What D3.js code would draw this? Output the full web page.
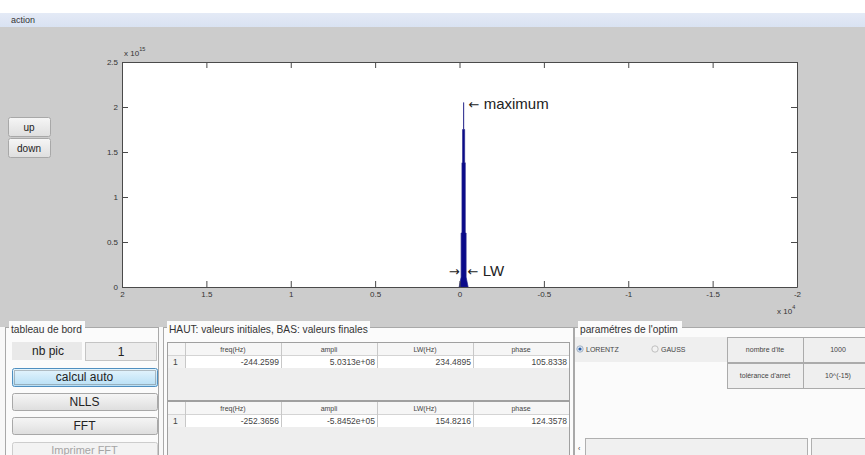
<!DOCTYPE html>
<html lang="fr">
<head>
    <meta charset="UTF-8">
    <title>action</title>
    <script type="text/javascript" src="https://cdn.jsdelivr.net/npm/d3@7"></script>
    <style>
        body {
            margin: 0;
            background-color: #cccccc;
            overflow: hidden;
        }

        svg text {
            font-family: Arial, "Liberation Sans", sans-serif;
        }

        .axis text {
            font-size: 8px;
            fill: #333;
        }

        .axis path, .axis line {
            stroke: #4a4a4a;
        }

        text.annot {
            font-size: 15px;
            fill: #222;
        }

        tspan.arrow {
            font-family: "DejaVu Sans", sans-serif;
            font-size: 13px;
        }

        text.panel-title {
            font-size: 10.2px;
            fill: #333;
        }

        text.btn {
            font-size: 12px;
            fill: #222;
            text-anchor: middle;
        }

        text.cell {
            font-size: 8.5px;
            fill: #444;
        }

        text.small {
            font-size: 7px;
            fill: #444;
        }
    </style>
</head>
<body>
<div id="fig"></div>
<script type="text/javascript">
    // spectrum (Hz, amplitude)
    var specFreq = [-510, -392, -392, -342, -342, -305, -305, -250, -244, -238, -183, -183, -146, -146, -96, -96, 22];
    var specAmp = [0, 0.11e15, 0.6e15, 0.6e15, 1.38e15, 1.38e15, 1.75e15, 1.75e15, 2.05e15, 1.75e15, 1.75e15,
        1.38e15, 1.38e15, 0.6e15, 0.6e15, 0.11e15, 0];

    var xTicks = [2e4, 1.5e4, 1e4, 0.5e4, 0, -0.5e4, -1e4, -1.5e4, -2e4];
    var yTicks = [0, 0.5e15, 1e15, 1.5e15, 2e15, 2.5e15];

    var peakFreq = -244, peakAmp = 2.05e15, lwLevel = 0.18e15;

    var colHeaders = ["freq(Hz)", "ampli", "LW(Hz)", "phase"];
    var initVals = ["-244.2599", "5.0313e+08", "234.4895", "105.8338"];
    var finalVals = ["-252.3656", "-5.8452e+05", "154.8216", "124.3578"];

    var W = 865, H = 455;
    var plot = {left: 122, right: 797, top: 62, bottom: 287};

    var svg = d3.select("#fig").append("svg")
        .attr("width", W)
        .attr("height", H);

    var defs = svg.append("defs");
    function grad(id, c1, c2) {
        var g = defs.append("linearGradient").attr("id", id)
            .attr("x1", 0).attr("y1", 0).attr("x2", 0).attr("y2", 1);
        g.append("stop").attr("offset", "0%").attr("stop-color", c1);
        g.append("stop").attr("offset", "100%").attr("stop-color", c2);
    }
    grad("gTitle", "#e4eaf6", "#d9e2f2");
    grad("gBtn", "#f6f6f6", "#dedede");
    grad("gBlue", "#e6f5fd", "#b6def5");

    // window strip
    svg.append("rect").attr("x", 0).attr("y", 0).attr("width", W).attr("height", 13).attr("fill", "#ffffff");
    svg.append("rect").attr("x", 0).attr("y", 13).attr("width", W).attr("height", 14).attr("fill", "url(#gTitle)");
    svg.append("text").attr("x", 11).attr("y", 23).style("font-size", "9px").style("fill", "#333").text("action");

    // ---- axes ----
    var x = d3.scaleLinear().domain([2e4, -2e4]).range([plot.left, plot.right]);
    var y = d3.scaleLinear().domain([0, 2.5e15]).range([plot.bottom, plot.top]);

    svg.append("rect")
        .attr("x", plot.left).attr("y", plot.top)
        .attr("width", plot.right - plot.left).attr("height", plot.bottom - plot.top)
        .attr("fill", "#ffffff");

    var area = d3.area()
        .x(function (d, i) { return x(specFreq[i]); })
        .y0(y(0))
        .y1(function (d) { return y(d); });

    svg.append("path")
        .datum(specAmp)
        .attr("fill", "#0a0a8a")
        .attr("stroke", "#24248a")
        .attr("stroke-width", 0.7)
        .attr("d", area);

    function num(d) { return String(+d.toFixed(2)); }

    svg.append("g")
        .attr("class", "axis")
        .attr("transform", "translate(0," + plot.bottom + ")")
        .call(d3.axisBottom(x).tickValues(xTicks).tickSizeInner(-6).tickSizeOuter(0).tickPadding(4)
            .tickFormat(function (d) { return num(d / 1e4); }));
    svg.append("g")
        .attr("class", "axis")
        .attr("transform", "translate(0," + plot.top + ")")
        .call(d3.axisTop(x).tickValues(xTicks).tickSizeInner(-6).tickSizeOuter(0).tickFormat(""));
    svg.append("g")
        .attr("class", "axis")
        .attr("transform", "translate(" + plot.left + ",0)")
        .call(d3.axisLeft(y).tickValues(yTicks).tickSizeInner(-6).tickSizeOuter(0).tickPadding(4)
            .tickFormat(function (d) { return num(d / 1e15); }));
    svg.append("g")
        .attr("class", "axis")
        .attr("transform", "translate(" + plot.right + ",0)")
        .call(d3.axisRight(y).tickValues(yTicks).tickSizeInner(-6).tickSizeOuter(0).tickFormat(""));

    // exponent labels
    function expo(xp, yp, p) {
        var t = svg.append("text").attr("x", xp).attr("y", yp).style("font-size", "8px").style("fill", "#333");
        t.append("tspan").text("x 10");
        t.append("tspan").attr("dy", -5).style("font-size", "5.5px").text(p);
    }
    expo(plot.left + 2, 56, "15");
    expo(777, 314, "4");

    // annotations
    var tMax = svg.append("text").attr("class", "annot")
        .attr("x", x(peakFreq) + 5).attr("y", y(peakAmp) + 6);
    tMax.append("tspan").attr("class", "arrow").text("\u2190");
    tMax.append("tspan").text(" maximum");

    svg.append("text").attr("class", "annot")
        .attr("x", x(peakFreq) - 4).attr("y", y(lwLevel) + 5)
        .style("text-anchor", "end")
        .append("tspan").attr("class", "arrow").text("\u2192");
    var tLw = svg.append("text").attr("class", "annot")
        .attr("x", x(peakFreq) + 4).attr("y", y(lwLevel) + 5);
    tLw.append("tspan").attr("class", "arrow").text("\u2190");
    tLw.append("tspan").text(" LW");

    // ---- buttons ----
    function button(bx, by, bw, bh, label, style) {
        var g = svg.append("g");
        var fill = "url(#gBtn)", stroke = "#a8a8a8", color = "#222";
        if (style === "blue") { fill = "url(#gBlue)"; stroke = "#4f8fc0"; }
        if (style === "off") { fill = "#f3f3f3"; stroke = "#cdcdcd"; color = "#a5a5a5"; }
        g.append("rect").attr("x", bx + 0.5).attr("y", by + 0.5).attr("width", bw).attr("height", bh)
            .attr("rx", 2).attr("fill", fill).attr("stroke", stroke);
        if (style === "blue") {
            g.append("rect").attr("x", bx + 2.5).attr("y", by + 2.5).attr("width", bw - 4).attr("height", bh - 4)
                .attr("fill", "none").attr("stroke", "#555").attr("stroke-dasharray", "1,1").attr("stroke-width", 0.7);
        }
        g.append("text").attr("class", "btn").attr("x", bx + bw / 2).attr("y", by + bh / 2 + 4)
            .style("fill", color).text(label);
        return g;
    }
    button(8, 117, 42, 19, "up").selectAll("text").style("font-size", "10px");
    button(8, 138, 42, 19, "down").selectAll("text").style("font-size", "10px");

    // ---- panels ----
    function panel(px, pw, title, tw) {
        svg.append("rect").attr("x", px + 0.5).attr("y", 327.5).attr("width", pw).attr("height", 140)
            .attr("fill", "#fbfbfb").attr("stroke", "#a9a9a9");
        svg.append("rect").attr("x", px + 4).attr("y", 321).attr("width", tw).attr("height", 13).attr("fill", "#fbfbfb");
        svg.append("text").attr("class", "panel-title").attr("x", px + 6).attr("y", 332.5).text(title);
    }
    svg.append("rect").attr("x", 0).attr("y", 327).attr("width", W).attr("height", H - 327).attr("fill", "#f8f8f8");
    panel(5, 153, "tableau de bord", 76);
    panel(163, 410, "HAUT: valeurs initiales, BAS: valeurs finales", 203);
    panel(574, 300, "paramétres de l'optim", 104);

    // tableau de bord
    svg.append("rect").attr("x", 12).attr("y", 342).attr("width", 70).attr("height", 18).attr("fill", "#e9e9e9");
    svg.append("text").attr("class", "btn").attr("x", 48).attr("y", 355).text("nb pic");
    svg.append("rect").attr("x", 85.5).attr("y", 342.5).attr("width", 71).attr("height", 18)
        .attr("fill", "#ececec").attr("stroke", "#c4c4c4");
    svg.append("text").attr("class", "btn").attr("x", 121).attr("y", 356).text("1");
    button(12, 368, 145, 18, "calcul auto", "blue");
    button(12, 393, 145, 17, "NLLS");
    button(12, 417, 145, 17, "FFT");
    button(12, 442, 145, 18, "Imprimer FFT", "off").selectAll("text").attr("y", 454).style("font-size", "11px");

    // tables
    var col = d3.scaleBand().domain(colHeaders).range([185, 569]);
    function table(ty, th, vals) {
        var g = svg.append("g");
        g.append("rect").attr("x", 167.5).attr("y", ty + 0.5).attr("width", 402).attr("height", th)
            .attr("fill", "#eeeeee").attr("stroke", "#a0a0a0");
        g.append("rect").attr("x", 168).attr("y", ty + 1).attr("width", 401).attr("height", 12).attr("fill", "#f6f6f6");
        g.append("rect").attr("x", 185).attr("y", ty + 13).attr("width", 384).attr("height", 13).attr("fill", "#ffffff");
        g.append("rect").attr("x", 168).attr("y", ty + 13).attr("width", 17).attr("height", 13).attr("fill", "#f2f2f2");
        g.append("line").attr("x1", 168).attr("x2", 569).attr("y1", ty + 13.5).attr("y2", ty + 13.5).attr("stroke", "#d4d4d4");
        g.selectAll("line.sep")
            .data(colHeaders)
            .enter().append("line")
            .attr("x1", function (d) { return col(d) + 0.5; })
            .attr("x2", function (d) { return col(d) + 0.5; })
            .attr("y1", ty + 1).attr("y2", ty + 26)
            .attr("stroke", "#c8c8c8");
        g.selectAll("text.hdr")
            .data(colHeaders)
            .enter().append("text")
            .attr("class", "small")
            .attr("x", function (d) { return col(d) + col.bandwidth() / 2; })
            .attr("y", ty + 10)
            .style("text-anchor", "middle")
            .text(function (d) { return d; });
        g.selectAll("text.val")
            .data(vals)
            .enter().append("text")
            .attr("class", "cell")
            .attr("x", function (d, i) { return col(colHeaders[i]) + col.bandwidth() - 2; })
            .attr("y", ty + 23)
            .style("text-anchor", "end")
            .text(function (d) { return d; });
        g.append("text").attr("class", "cell").attr("x", 173).attr("y", ty + 23).text("1");
    }
    table(342, 58, initVals);
    table(401, 70, finalVals);

    // parametres de l'optim
    svg.append("rect").attr("x", 575).attr("y", 337).attr("width", 152).attr("height", 25).attr("fill", "#efefef");
    svg.append("circle").attr("cx", 580).attr("cy", 349).attr("r", 3.2).attr("fill", "#dfe8f2").attr("stroke", "#8a9bb0").attr("stroke-width", 0.7);
    svg.append("circle").attr("cx", 580).attr("cy", 349).attr("r", 1.6).attr("fill", "#2a5ea8");
    svg.append("text").attr("class", "small").attr("x", 586).attr("y", 351.5).text("LORENTZ");
    svg.append("circle").attr("cx", 655).attr("cy", 349).attr("r", 3.2).attr("fill", "#f2f2f2").attr("stroke", "#aaaaaa").attr("stroke-width", 0.7);
    svg.append("text").attr("class", "small").attr("x", 661).attr("y", 351.5).text("GAUSS");

    function box(bx, by, bw, bh, label) {
        svg.append("rect").attr("x", bx + 0.5).attr("y", by + 0.5).attr("width", bw).attr("height", bh)
            .attr("fill", "#efefef").attr("stroke", "#ababab");
        svg.append("text").attr("class", "small").attr("x", bx + bw / 2).attr("y", by + bh / 2 + 2.5)
            .style("text-anchor", "middle").text(label);
    }
    box(727, 337, 76, 25, "nombre d'ite");
    box(803, 337, 70, 25, "1000");
    box(727, 363, 76, 25, "tolérance d'arret");
    box(803, 363, 70, 25, "10^(-15)");

    svg.append("text").attr("class", "small").attr("x", 578).attr("y", 451).text("\u2039");
    svg.append("rect").attr("x", 585.5).attr("y", 438.5).attr("width", 222).attr("height", 25)
        .attr("fill", "#f0f0f0").attr("stroke", "#b0b0b0");
    svg.append("rect").attr("x", 811.5).attr("y", 438.5).attr("width", 60).attr("height", 25)
        .attr("fill", "#f0f0f0").attr("stroke", "#b0b0b0");
</script>
</body>
</html>
